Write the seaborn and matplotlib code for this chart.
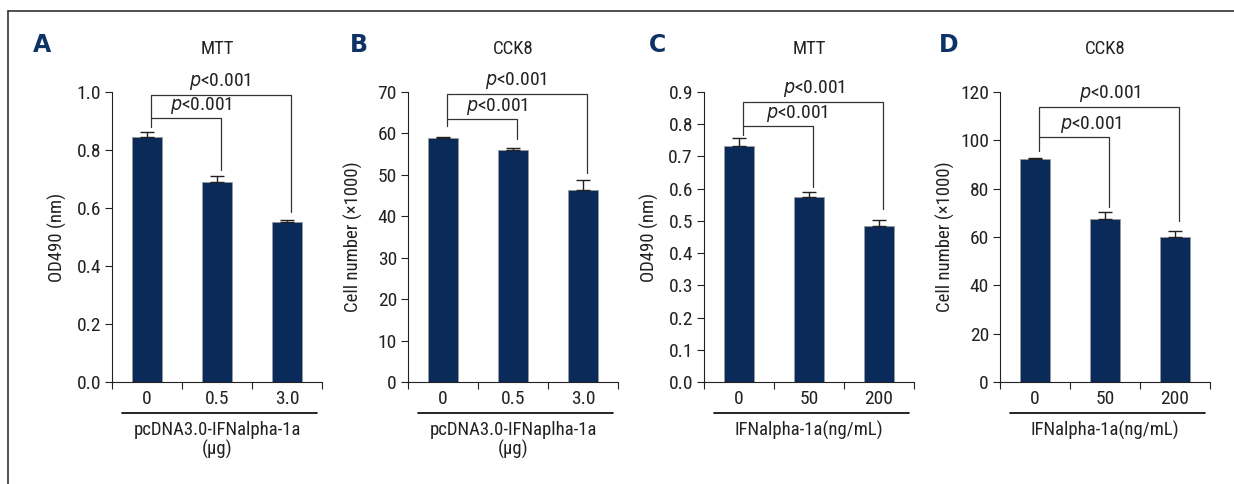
import numpy as np
import pandas as pd
import matplotlib.pyplot as plt
import matplotlib.lines as mlines
import seaborn as sns

sns.set_theme(style='ticks')
plt.rcParams['font.family'] = ['Roboto Condensed', 'DejaVu Sans']
plt.rcParams['font.stretch'] = 'condensed'
plt.rcParams['mathtext.fontset'] = 'custom'
plt.rcParams['mathtext.it'] = 'DejaVu Sans:italic'

# data
groups_ab = ['0', '0.5', '3.0']
groups_cd = ['0', '50', '200']

mtt_plasmid = [0.846, 0.689, 0.553]
mtt_plasmid_err = [0.016, 0.021, 0.006]
cck8_plasmid = [58.8, 56.0, 46.3]
cck8_plasmid_err = [0.4, 0.6, 2.4]
mtt_protein = [0.732, 0.575, 0.485]
mtt_protein_err = [0.025, 0.014, 0.017]
cck8_protein = [92.3, 67.4, 60.1]
cck8_protein_err = [0.5, 2.8, 2.2]

# bracket levels: (upper, inner, [leg bottoms for the 3 bars])
brackets_a = (0.99, 0.91, [0.88, 0.73, 0.585])
brackets_b = (69.4, 63.6, [61.8, 58.6, 50.4])
brackets_c = (0.868, 0.794, [0.767, 0.604, 0.537])
brackets_d = (113.8, 101.4, [95.7, 72.5, 66.7])
p_text = '$p$<0.001'

panels = [
    dict(letter='A', title='MTT', groups=groups_ab, vals=mtt_plasmid, err=mtt_plasmid_err,
         yticks=np.arange(0, 1.01, 0.2), fmt='{:.1f}', ylabel='OD490 (nm)',
         xlabel='pcDNA3.0-IFNalpha-1a\n(µg)', br=brackets_a, px=(1.04, 0.77), left=112),
    dict(letter='B', title='CCK8', groups=groups_ab, vals=cck8_plasmid, err=cck8_plasmid_err,
         yticks=np.arange(0, 71, 10), fmt='{:.0f}', ylabel='Cell number (×1000)',
         xlabel='pcDNA3.0-IFNaplha-1a\n(µg)', br=brackets_b, px=(1.04, 0.77), left=408),
    dict(letter='C', title='MTT', groups=groups_cd, vals=mtt_protein, err=mtt_protein_err,
         yticks=np.arange(0, 0.91, 0.1), fmt='{:.1f}', ylabel='OD490 (nm)',
         xlabel='IFNalpha-1a(ng/mL)', br=brackets_c, px=(1.07, 0.83), left=704),
    dict(letter='D', title='CCK8', groups=groups_cd, vals=cck8_protein, err=cck8_protein_err,
         yticks=np.arange(0, 121, 20), fmt='{:.0f}', ylabel='Cell number (×1000)',
         xlabel='IFNalpha-1a(ng/mL)', br=brackets_d, px=(1.07, 0.80), left=1000),
]

W, H = 1234, 484
fig = plt.figure(figsize=(W / 100, H / 100), dpi=100)
navy = '#0a2a5a'
dark = '#222222'

for p in panels:
    ax = fig.add_axes([p['left'] / W, (H - 382) / H, 210 / W, 290 / H])
    df = pd.DataFrame({'group': p['groups'], 'value': p['vals']})
    sns.barplot(data=df, x='group', y='value', order=p['groups'], color=navy,
                width=0.44, edgecolor='#9a9a9a', linewidth=0.6, saturation=1, ax=ax)
    x = np.arange(len(p['groups']))
    ax.errorbar(x, p['vals'], yerr=[np.zeros(len(x)), p['err']], fmt='none',
                ecolor=dark, elinewidth=1.0, capsize=5, capthick=1.0, zorder=3)

    ax.set_xlim(-0.5, 2.5)
    ax.set_ylim(0, p['yticks'][-1])
    ax.set_yticks(p['yticks'])
    ax.set_yticklabels([p['fmt'].format(v) for v in p['yticks']])
    ax.set_xticks([-0.5, 0.5, 1.5, 2.5], minor=True)
    ax.tick_params(axis='x', which='major', length=0, pad=6, labelsize=14, colors=dark)
    ax.tick_params(axis='x', which='minor', length=5, width=0.8, direction='out', color=dark)
    ax.tick_params(axis='y', length=5, width=0.8, pad=3, labelsize=14, colors=dark)
    for s in ['top', 'right']:
        ax.spines[s].set_visible(False)
    for s in ['left', 'bottom']:
        ax.spines[s].set_linewidth(0.8)
        ax.spines[s].set_color(dark)
    ax.set_xlabel('')
    ax.set_ylabel(p['ylabel'], fontsize=13.5, color=dark, va='center')
    ax.yaxis.set_label_coords(-55 / 210, 0.5)

    # underline + xlabel
    ax.add_line(mlines.Line2D([0.048, 0.976], [-0.107, -0.107], transform=ax.transAxes,
                              color='black', lw=1.2, clip_on=False))
    ax.text(0.5, -0.135, p['xlabel'], transform=ax.transAxes, ha='center', va='top',
            fontsize=13.5, color=dark, linespacing=1.05)

    # title
    ax.text(0.5, 1.148, p['title'], transform=ax.transAxes, ha='center', va='center',
            fontsize=13.5, color=dark)

    # significance brackets
    up, inner, legs = p['br']
    lx = x + 0.06
    bc = '#333333'
    ax.plot([lx[0], lx[0], lx[2], lx[2]], [legs[0], up, up, legs[2]], color=bc, lw=0.9, clip_on=False)
    ax.plot([lx[0], lx[1], lx[1]], [inner, inner, legs[1]], color=bc, lw=0.9, clip_on=False)
    ax.annotate(p_text, (p['px'][0], up), xytext=(0, 10), textcoords='offset points',
                ha='center', va='center', fontsize=14, color=dark, annotation_clip=False)
    ax.annotate(p_text, (p['px'][1], inner), xytext=(0, 9), textcoords='offset points',
                ha='center', va='center', fontsize=14, color=dark, annotation_clip=False)

    # panel letter
    cx = {'A': 42, 'B': 359, 'C': 658, 'D': 949}[p['letter']]
    fig.text(cx / W, 1 - 45 / H, p['letter'], ha='center', va='center', fontsize=17,
             fontweight='bold', color='#0d3366', family=['DejaVu Sans'], fontstretch='normal')

# partial frame (top and left)
fig.add_artist(mlines.Line2D([8 / W, 1], [1 - 11 / H, 1 - 11 / H], color='#333333', lw=1.2))
fig.add_artist(mlines.Line2D([8 / W, 8 / W], [0, 1 - 11 / H], color='#333333', lw=1.2))

fig.savefig('out.png', dpi=100)
